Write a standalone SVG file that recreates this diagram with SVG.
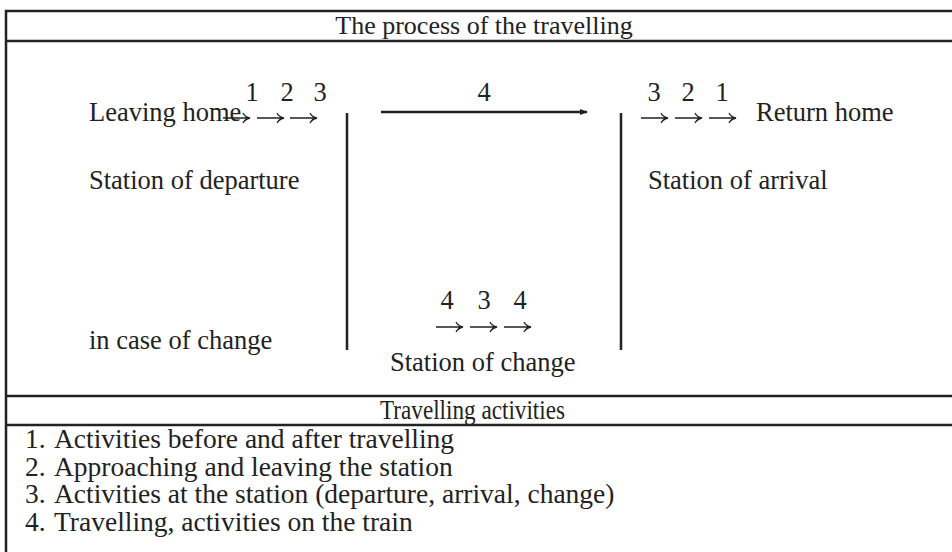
<svg xmlns="http://www.w3.org/2000/svg" width="952" height="552" viewBox="0 0 952 552">
<defs>
<style>
text{font-family:"Liberation Serif","Times New Roman",serif;font-size:26.5px;fill:#222}
.c{text-anchor:middle}
.t{font-size:26px}
.li{font-size:27.5px}
.ln{stroke:#222;stroke-width:2.5;fill:none}
.ar{stroke:#222;stroke-width:1.3;fill:none}
</style>
<marker id="ah" markerWidth="8" markerHeight="6" refX="7" refY="3" orient="auto" markerUnits="userSpaceOnUse">
<path d="M0,0 L8,3 L0,6 z" fill="#222"/>
</marker>
<path id="ra" d="M0,0 H26 M20,-5 Q22,-1 27,0 Q22,1 20,5"/>
</defs>
<rect width="952" height="552" fill="#fff"/>
<g id="frame">
<path class="ln" d="M6,552 V11 H952 M6,41 H952 M6,396 H952 M6,425 H952"/>
</g>
<g id="title"><text class="c t" x="484" y="34">The process of the travelling</text></g>
<g id="leaving">
<text x="89" y="121">Leaving home</text>
<text class="c" x="252" y="101">1</text><text class="c" x="287" y="101">2</text><text class="c" x="320" y="101">3</text>
<use href="#ra" class="ar" x="223" y="118"/><use href="#ra" class="ar" x="257" y="118"/><use href="#ra" class="ar" x="290" y="118"/>
</g>
<g id="departure"><text x="89" y="189">Station of departure</text></g>
<g id="change-left"><text x="89" y="349">in case of change</text></g>
<g id="return">
<text class="c" x="654" y="101">3</text><text class="c" x="688" y="101">2</text><text class="c" x="722" y="101">1</text>
<use href="#ra" class="ar" x="641" y="118"/><use href="#ra" class="ar" x="675" y="118"/><use href="#ra" class="ar" x="709" y="118"/>
<text x="756" y="121">Return home</text>
</g>
<g id="arrival"><text x="648" y="189">Station of arrival</text></g>
<g id="station-change">
<text class="c" x="447" y="309">4</text><text class="c" x="484" y="309">3</text><text class="c" x="520" y="309">4</text>
<use href="#ra" class="ar" x="436" y="327"/><use href="#ra" class="ar" x="470" y="327"/><use href="#ra" class="ar" x="504" y="327"/>
<text x="390" y="371">Station of change</text>
</g>
<g id="connectors">
<path class="ln" d="M347,113 V350 M621,113 V350"/>
<path class="ln" d="M381,112 H587" marker-end="url(#ah)"/>
<text class="c" x="484" y="101">4</text>
</g>
<g id="activities">
<text x="380" y="419" font-size="27" textLength="185" lengthAdjust="spacingAndGlyphs">Travelling activities</text>
<text class="li" x="25" y="448">1.<tspan x="54">Activities before and after travelling</tspan></text>
<text class="li" x="25" y="476">2.<tspan x="54">Approaching and leaving the station</tspan></text>
<text class="li" x="25" y="503">3.<tspan x="54">Activities at the station (departure, arrival, change)</tspan></text>
<text class="li" x="25" y="531">4.<tspan x="54">Travelling, activities on the train</tspan></text>
</g>
</svg>
